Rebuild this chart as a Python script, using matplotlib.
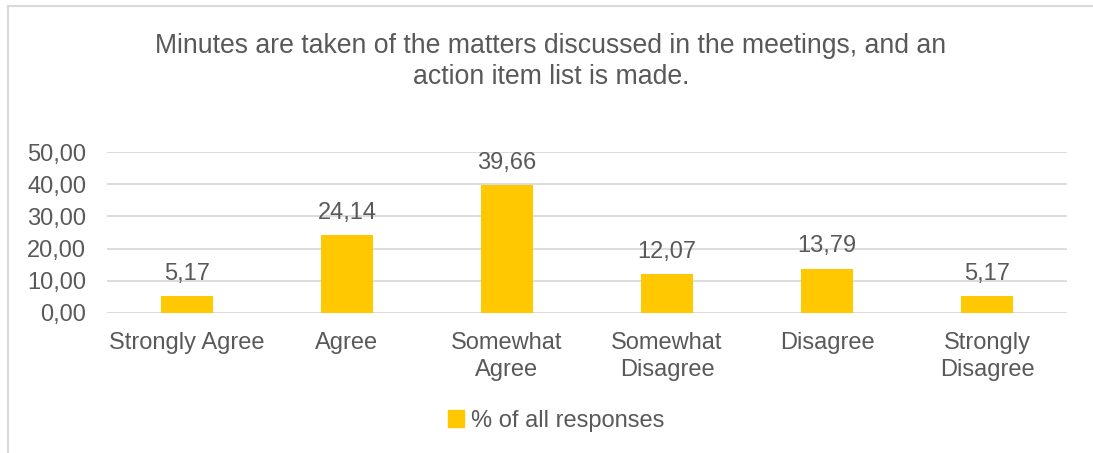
import matplotlib
matplotlib.use("Agg")
import matplotlib.pyplot as plt
from matplotlib.lines import Line2D
from matplotlib.patches import Patch

plt.rcParams['font.family'] = ['Liberation Sans', 'DejaVu Sans']

# survey answers
categories = ["Strongly Agree", "Agree", "Somewhat\nAgree", "Somewhat\nDisagree",
              "Disagree", "Strongly\nDisagree"]
values = [5.17, 24.14, 39.66, 12.07, 13.79, 5.17]
yticks = [0, 10, 20, 30, 40, 50]

grey = "#595959"
bar_col = "#FFC800"

fig = plt.figure(figsize=(10.93, 4.53), dpi=100)
ax = fig.add_axes([107/1093, 1 - 313/453, 960/1093, (313 - 152)/453])

x = range(len(values))
bars = ax.bar(x, values, width=0.32, color=bar_col, zorder=2)

for b, v in zip(bars, values):
    ax.annotate(f"{v:.2f}".replace(".", ","),
                (b.get_x() + b.get_width()/2, v), xytext=(0, 8),
                textcoords="offset points", ha="center", va="bottom",
                fontsize=17, color=grey)

ax.set_xlim(-0.5, len(values) - 0.5)
ax.set_ylim(0, 50)
ax.set_yticks(yticks)
ax.set_yticklabels([f"{t:.2f}".replace(".", ",") for t in yticks])
ax.set_xticks(list(x))
ax.set_xticklabels(categories, linespacing=1.25)
ax.tick_params(axis="y", length=0, pad=15, labelsize=17, labelcolor=grey)
ax.tick_params(axis="x", length=0, pad=14, labelsize=17, labelcolor=grey)
ax.grid(axis="y", color="#D9D9D9", linewidth=1.3, zorder=0)
for s in ax.spines.values():
    s.set_visible(False)

fig.text(551/1093, 1 - 33/453,
         "Minutes are taken of the matters discussed in the meetings, and an\naction item list is made.",
         ha="center", va="top", fontsize=19.2, color=grey, linespacing=1.25)

leg = fig.legend(handles=[Patch(color=bar_col, label="% of all responses")],
                 loc="center", bbox_to_anchor=(556/1093, 1 - 421/453),
                 frameon=False, fontsize=17, handlelength=0.7, handleheight=0.7,
                 handletextpad=0.3, labelcolor=grey)

# chart frame
fig.add_artist(Line2D([8/1093, 1], [1 - 6/453, 1 - 6/453], color="#D9D9D9", lw=1.5))
fig.add_artist(Line2D([8/1093, 8/1093], [0, 1 - 6/453], color="#D9D9D9", lw=1.5))

fig.savefig("out.png", dpi=100)
